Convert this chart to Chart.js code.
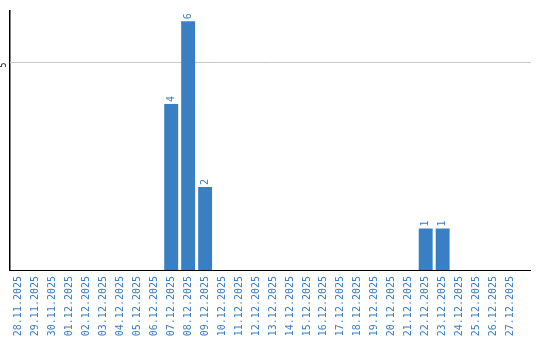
<!DOCTYPE html>
<html>
<head>
<meta charset="utf-8">
<script src="https://cdn.jsdelivr.net/npm/chart.js@4/dist/chart.umd.min.js"></script>
<style>
  html, body { margin: 0; padding: 0; background: #fff; }
  #wrap { width: 540px; height: 340px; }
</style>
</head>
<body>
<div id="wrap"><canvas id="daysChart" width="540" height="340"></canvas></div>
<script>
// chart data
const days = [
  '28.11.2025', '29.11.2025', '30.11.2025', '01.12.2025', '02.12.2025', '03.12.2025',
  '04.12.2025', '05.12.2025', '06.12.2025', '07.12.2025', '08.12.2025', '09.12.2025',
  '10.12.2025', '11.12.2025', '12.12.2025', '13.12.2025', '14.12.2025', '15.12.2025',
  '16.12.2025', '17.12.2025', '18.12.2025', '19.12.2025', '20.12.2025', '21.12.2025',
  '22.12.2025', '23.12.2025', '24.12.2025', '25.12.2025', '26.12.2025', '27.12.2025'
];
const counts = [
  0, 0, 0, 0, 0, 0,
  0, 0, 0, 4, 6, 2,
  0, 0, 0, 0, 0, 0,
  0, 0, 0, 0, 0, 0,
  1, 1, 0, 0, 0, 0
];
const yTicks = [5];
const yMax = 6.25;

const blue = '#3a7ec3';
const mono = "'DejaVu Sans Mono', monospace";
const tail = 12; // axis and grid run a little past the last day

// numbers above the bars, written upwards
const valueLabels = {
    id: 'valueLabels',
    afterDatasetsDraw(chart) {
        const ctx = chart.ctx;
        const bars = chart.getDatasetMeta(0).data;
        ctx.save();
        ctx.fillStyle = blue;
        ctx.font = "10px " + mono;
        ctx.textAlign = 'left';
        ctx.textBaseline = 'middle';
        bars.forEach((bar, i) => {
            if (!counts[i]) return;
            ctx.save();
            ctx.translate(bar.x, bar.y - 2);
            ctx.rotate(-Math.PI / 2);
            ctx.fillText(String(counts[i]), 0, 0);
            ctx.restore();
        });
        ctx.restore();
    }
};

// horizontal grid lines, under the bars, full width incl. the tail
const gridLines = {
    id: 'gridLines',
    beforeDatasetsDraw(chart) {
        const ctx = chart.ctx;
        const area = chart.chartArea;
        const y = chart.scales.y;
        ctx.save();
        ctx.lineWidth = 1;
        ctx.strokeStyle = '#c8c8c8';
        yTicks.forEach(v => {
            const py = Math.round(y.getPixelForValue(v) - 0.5) + 0.5;
            ctx.beginPath();
            ctx.moveTo(area.left, py);
            ctx.lineTo(area.right + tail, py);
            ctx.stroke();
        });
        ctx.restore();
    },
    afterDraw(chart) {
        const ctx = chart.ctx;
        const area = chart.chartArea;
        ctx.save();
        ctx.lineWidth = 1;
        ctx.strokeStyle = '#000';
        const by = Math.round(area.bottom - 0.5) + 0.5;
        ctx.beginPath();
        ctx.moveTo(area.right - 1, by);
        ctx.lineTo(area.right + tail, by);
        ctx.stroke();
        ctx.restore();
    }
};

new Chart(document.getElementById('daysChart').getContext('2d'), {
    type: 'bar',
    data: {
        labels: days,
        datasets: [{
            data: counts,
            backgroundColor: blue,
            borderWidth: 0,
            barPercentage: 0.82,
            categoryPercentage: 1
        }]
    },
    options: {
        responsive: false,
        animation: false,
        layout: { padding: { top: 10, right: 21, bottom: 0, left: 0 } },
        plugins: {
            legend: { display: false },
            tooltip: { enabled: false }
        },
        scales: {
            x: {
                afterFit: s => { s.height = 70; },
                grid: { display: false, drawTicks: false },
                border: { display: true, color: '#000', width: 1 },
                ticks: {
                    color: blue,
                    font: { family: mono, size: 10 },
                    minRotation: 90,
                    maxRotation: 90,
                    padding: 6,
                    autoSkip: false
                }
            },
            y: {
                min: 0,
                max: yMax,
                afterFit: s => { s.width = 10; },
                afterBuildTicks: s => { s.ticks = yTicks.map(v => ({ value: v })); },
                grid: { display: false, drawTicks: false },
                border: { display: true, color: '#000', width: 1.5 },
                ticks: {
                    color: '#000',
                    font: { family: mono, size: 8 },
                    minRotation: 90,
                    maxRotation: 90,
                    padding: 6
                }
            }
        }
    },
    plugins: [gridLines, valueLabels]
});
</script>
</body>
</html>
